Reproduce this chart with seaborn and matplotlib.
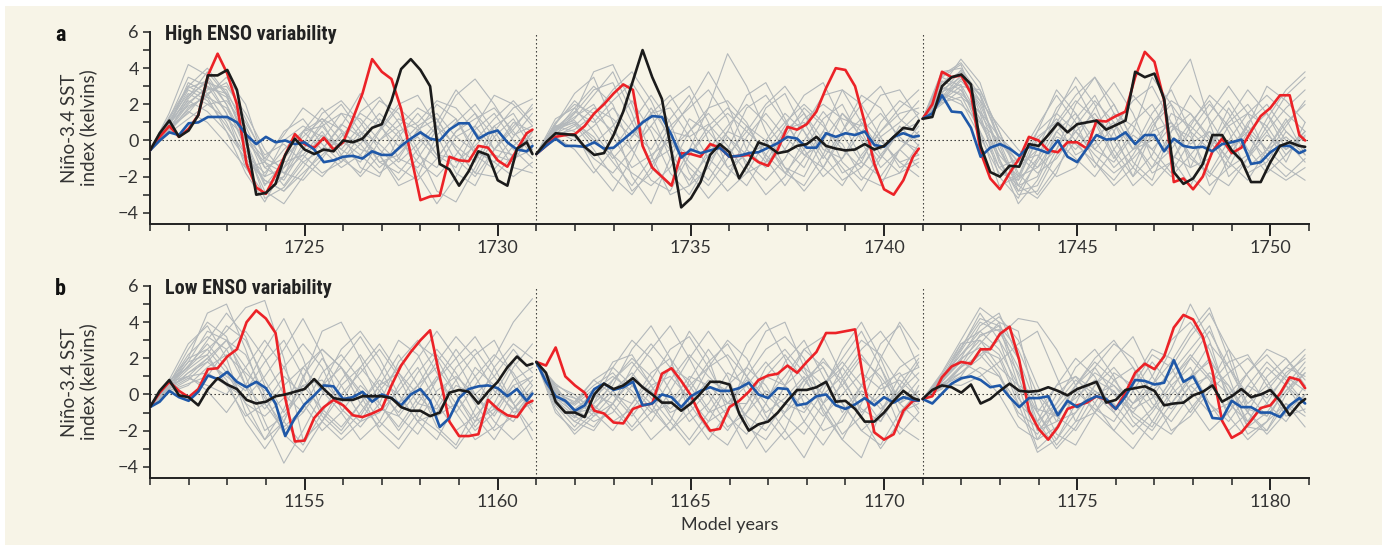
import numpy as np
import pandas as pd
import matplotlib
matplotlib.use("Agg")
import matplotlib.pyplot as plt
from matplotlib.patches import Rectangle
from matplotlib.ticker import MultipleLocator, FixedLocator
import seaborn as sns

# ---------------- data ----------------
# time offsets (years) within each 10-year restart segment
t_col = np.append(np.arange(0, 9.76, 0.25), 9.9)    # highlighted members
t_grey = np.linspace(0, 9.9, 21)                     # other ensemble members

starts_a = [1721, 1731, 1741]
starts_b = [1151, 1161, 1171]

red_a = [
    [-0.55,0.2,0.8,0.2,0.65,1.4,3.6,4.8,3.7,2.0,-1.3,-2.6,-2.95,-1.9,-0.8,0.35,-0.2,-0.4,0.15,-0.5,-0.1,1.2,2.6,4.5,3.8,3.4,1.75,-0.8,-3.3,-3.1,-3.05,-0.9,-1.1,-1.15,-0.3,-0.4,-1.1,-1.45,-0.5,0.4,0.6],
    [-0.75,-0.3,0.2,0.3,0.35,0.8,1.5,2.0,2.6,3.1,2.8,-0.3,-1.5,-2.0,-2.5,-0.7,-0.75,-0.9,-0.2,-0.4,-0.9,-0.85,-0.8,-1.2,-1.4,-0.5,0.75,0.6,0.9,1.6,2.9,4.0,3.9,3.0,1.0,-1.3,-2.7,-3.0,-2.2,-0.9,-0.45],
    [1.2,2.0,3.8,3.5,3.6,2.6,-0.65,-2.1,-2.7,-1.8,-1.0,0.2,0.0,-0.55,-0.65,-0.1,-0.1,-0.45,1.1,1.05,1.35,1.6,3.5,4.9,4.35,2.2,-2.3,-2.1,-2.7,-2.0,-0.6,0.1,-0.7,-0.4,0.5,1.35,1.8,2.5,2.5,0.3,0.0],
]
blue_a = [
    [-0.55,0.0,0.45,0.3,0.95,1.0,1.3,1.3,1.3,1.0,0.3,-0.2,0.2,-0.1,0.0,-0.2,-0.1,-0.5,-1.2,-1.1,-0.9,-0.85,-1.0,-0.6,-0.8,-0.8,-0.3,0.1,0.45,0.1,0.0,0.6,0.95,0.95,0.1,0.4,0.55,-0.1,-0.5,-0.6,-0.3],
    [-0.75,-0.3,0.1,-0.3,-0.3,-0.35,-0.1,-0.45,-0.4,0.05,0.5,1.0,1.35,1.3,0.3,-0.95,-0.5,-0.7,-0.55,-0.4,-0.9,-0.85,-0.7,-0.65,-0.4,-0.15,0.2,0.1,-0.4,-0.4,0.4,0.2,0.4,0.3,0.5,-0.25,-0.35,0.2,0.4,0.2,0.25],
    [1.2,1.5,2.5,1.6,1.55,0.7,-0.9,-0.4,-0.2,-0.45,-0.85,-0.35,-0.5,-0.7,0.0,-0.9,-1.2,-0.45,0.3,0.05,0.1,0.45,-0.2,0.3,0.3,-0.6,0.1,-0.3,-0.4,-0.35,-0.6,-0.2,-0.1,0.05,-1.3,-1.2,-0.65,-0.3,-0.3,-0.7,-0.55],
]
black_a = [
    [-0.55,0.4,1.1,0.2,0.55,1.4,3.6,3.6,3.9,2.8,0.0,-3.0,-2.9,-2.4,-0.8,0.1,-0.5,-0.75,-0.5,-0.6,0.0,-0.1,0.1,0.7,0.9,2.2,3.95,4.5,3.9,3.0,-1.3,-1.6,-2.5,-1.7,-0.6,-0.8,-2.2,-2.5,-0.45,-0.1,-0.75],
    [-0.75,-0.1,0.4,0.35,0.3,-0.35,-0.8,-0.7,0.3,1.6,3.3,5.0,3.5,2.3,-0.65,-3.7,-3.2,-2.3,-0.8,-0.2,-0.65,-2.1,-1.2,-0.1,-0.3,-0.7,-0.6,-0.3,-0.2,0.2,-0.3,-0.45,-0.55,-0.5,-0.2,-0.5,-0.3,0.2,0.7,0.6,1.1],
    [1.2,1.3,3.0,3.5,3.65,3.1,-0.3,-1.75,-2.0,-1.4,-1.45,-0.2,-0.3,0.3,0.95,0.45,0.9,1.0,1.1,0.6,0.85,1.1,3.8,3.5,3.7,2.3,-1.75,-2.4,-2.1,-1.3,0.3,0.3,-0.55,-1.1,-2.3,-2.3,-1.2,-0.3,-0.1,-0.3,-0.35],
]
red_b = [
    [-0.7,0.1,0.7,0.2,-0.15,0.3,1.4,1.45,2.1,2.5,4.0,4.65,4.2,3.4,-0.2,-2.6,-2.55,-1.3,-0.7,-0.3,-0.6,-1.15,-1.25,-1.05,-0.8,0.5,1.6,2.35,3.0,3.55,1.0,-1.5,-2.3,-2.3,-2.2,-0.3,-0.8,-1.15,-1.25,-0.5,-0.35],
    [1.8,1.6,2.6,1.0,0.5,0.1,-0.9,-1.05,-1.55,-1.6,-0.8,-0.6,-0.5,1.15,1.45,0.75,-0.05,-1.2,-2.0,-1.9,-0.7,-0.35,0.15,0.8,1.05,1.15,1.6,1.2,1.8,2.35,3.4,3.4,3.5,3.6,0.4,-2.1,-2.5,-2.2,-0.9,-0.35,-0.35],
    [-0.25,-0.1,0.95,1.55,1.8,1.7,2.5,2.5,3.35,3.75,1.9,-0.9,-1.9,-2.5,-1.8,-0.8,-0.6,-0.45,-0.1,-0.3,-0.8,0.1,1.2,1.7,1.4,2.1,3.7,4.4,4.15,3.2,1.3,-1.45,-2.4,-2.1,-1.45,-0.75,-0.6,0.05,0.95,0.8,0.35],
]
blue_b = [
    [-0.7,-0.4,0.2,-0.15,-0.35,0.15,1.05,0.85,1.25,0.7,0.4,0.7,0.35,-0.5,-2.3,-1.3,-0.55,-0.05,0.5,0.45,-0.25,-0.15,0.15,-0.4,0.0,-0.2,-0.6,0.0,0.3,-0.35,-1.8,-1.3,-0.2,0.3,0.45,0.5,0.35,-0.1,0.3,-0.35,0.05],
    [1.8,0.7,-0.1,-0.35,-0.9,-0.6,0.3,0.6,0.25,0.4,0.7,-0.6,-0.5,0.0,-0.15,-0.7,-0.1,0.2,0.4,0.2,0.2,0.35,0.65,0.0,-0.2,0.35,0.3,-0.6,-0.5,-0.1,0.0,-0.6,-0.8,-0.55,-0.2,-0.6,-0.15,-0.45,-0.15,-0.3,-0.35],
    [-0.25,-0.5,0.05,0.6,0.9,1.0,0.8,0.4,0.5,-0.15,-0.7,-0.2,-0.2,-0.1,-1.15,-0.35,-0.7,-0.35,-0.1,-0.25,-0.8,-0.1,0.8,0.75,0.55,0.65,1.9,0.7,1.0,0.0,-1.3,-1.35,-0.35,-0.7,-0.7,-1.0,-1.0,-1.25,-0.6,-0.2,-0.5],
]
black_b = [
    [-0.7,0.2,0.8,-0.05,-0.15,-0.6,0.3,0.9,0.55,0.3,-0.3,-0.5,-0.4,-0.1,0.0,0.15,0.3,0.85,0.3,-0.2,-0.3,-0.3,-0.1,-0.1,-0.1,-0.2,-0.7,-0.9,-0.9,-1.2,-1.0,0.1,0.25,0.15,-0.5,0.15,0.7,1.5,2.1,1.6,1.7],
    [1.8,1.2,-0.4,-1.0,-1.0,-1.25,0.0,0.6,0.3,0.5,0.9,0.4,0.0,-0.45,-0.45,-0.9,-0.5,0.05,0.7,0.7,0.55,-1.05,-2.0,-1.65,-1.5,-1.0,-0.35,0.25,0.25,0.4,0.7,-0.4,-0.35,-0.8,-1.5,-1.5,-1.0,-0.35,0.2,-0.2,-0.3],
    [-0.25,0.25,0.5,0.4,0.1,0.55,-0.5,-0.25,0.2,0.6,0.2,0.15,0.2,0.4,0.2,-0.05,0.3,0.5,0.7,-0.45,-0.3,0.25,0.35,0.45,0.2,-0.6,-0.5,-0.45,-0.05,0.15,0.5,-0.4,-0.1,0.3,-0.15,0.0,0.25,-0.35,-1.15,-0.5,-0.25],
]

grey_a = [
    [  # 1721-1731
        [-0.55,0.8,2.5,3.2,2.8,0.5,-2.0,-1.5,-0.5,0.8,1.5,0.2,-1.2,-0.8,0.5,2.0,1.2,-0.5,-1.2,0.2,1.5],
        [-0.55,1.2,3.5,3.0,1.5,-1.5,-3.0,-2.0,0.5,1.8,0.5,-1.5,-2.0,0.2,1.5,0.3,-1.8,-2.5,-0.5,1.0,0.5],
        [-0.55,0.5,1.8,2.5,3.5,2.0,-1.2,-2.5,-1.0,0.3,-0.5,0.8,2.2,1.5,-0.5,-2.8,-3.4,-1.5,0.5,1.8,2.3],
        [-0.55,0.9,2.8,2.2,0.8,-0.8,-1.8,-0.5,0.5,-0.5,-1.5,-0.8,0.6,2.0,2.5,0.8,-1.2,-0.3,0.8,-0.5,-1.5],
        [-0.55,1.5,4.2,3.6,2.0,-0.5,-2.8,-3.5,-2.0,-0.5,0.8,2.6,1.0,-1.0,-1.5,-0.2,1.0,2.0,0.5,-1.0,-0.5],
        [-0.55,0.6,2.0,3.0,2.4,0.3,-1.5,-1.0,0.2,1.2,0.6,-0.5,-0.8,-2.2,-1.0,0.6,2.5,3.4,2.0,0.3,0.8],
        [-0.55,1.0,2.2,1.6,0.5,-1.0,-2.2,-2.8,-1.5,0.0,1.5,1.2,0.0,0.8,1.8,1.2,-0.5,-1.8,-2.0,-0.8,0.2],
        [-0.55,0.7,1.5,2.8,3.0,1.5,-0.5,-1.8,-2.2,-1.0,0.4,-0.2,-1.5,-0.5,0.2,-1.0,0.5,1.5,0.2,-1.5,-1.8],
        [-0.55,1.3,3.0,4.0,2.6,-0.2,-2.5,-1.2,-0.8,-1.8,-1.2,0.3,1.5,0.5,-1.8,-3.5,-2.0,0.0,1.2,2.2,1.0],
        [-0.55,0.4,1.2,2.0,1.2,0.2,-1.0,0.3,1.8,1.0,-0.8,-2.0,-0.8,0.5,1.0,2.2,1.8,0.5,-0.8,-1.2,0.5],
        [-0.55,1.1,2.6,2.0,2.2,0.8,-1.5,-2.2,-0.5,1.0,2.0,0.5,-1.2,-1.8,-0.5,0.8,-0.3,-1.2,0.8,1.5,-0.2],
        [-0.55,0.8,3.2,2.6,1.0,-1.2,-2.0,0.0,0.8,0.2,-0.3,1.6,2.4,1.0,-0.8,-1.5,0.2,0.8,-0.5,0.6,2.0],
        [-0.55,0.6,2.3,3.4,2.0,0.0,-1.2,-1.8,-0.8,0.5,-1.0,-1.8,0.0,1.2,0.6,-0.8,-1.5,0.6,1.5,0.0,-1.0],
        [-0.55,1.0,1.9,2.4,1.8,-0.2,-3.2,-2.6,-1.2,-0.5,0.9,0.2,-0.8,-2.5,-2.0,0.3,1.2,-0.8,-1.6,-0.3,0.6],
        [-0.55,0.9,2.4,3.8,2.5,0.0,-2.4,-2.0,-0.2,1.5,2.2,1.0,-0.5,-1.5,-2.2,-1.0,0.5,1.2,1.8,0.5,-0.8],
        [-0.55,0.5,1.6,1.0,-0.2,-1.5,-1.2,0.5,1.2,-0.2,-1.2,-0.2,1.2,0.2,-1.2,-2.0,-0.8,0.8,2.5,2.0,0.8],
        [-0.55,1.2,2.9,3.3,1.5,-0.8,-2.2,-2.8,-1.8,-0.8,0.2,1.5,0.8,-0.3,0.8,1.5,0.2,-0.6,-1.2,-2.0,-1.2],
        [-0.55,0.7,2.1,2.9,2.6,1.0,-0.8,-0.2,-1.2,-2.0,-0.8,0.5,-0.2,-1.2,-0.2,1.0,2.8,1.5,-0.5,-0.8,0.5],
        [-0.55,1.0,3.0,2.4,0.5,-1.8,-3.4,-1.5,0.5,0.8,-0.5,-1.2,0.5,1.8,0.8,-0.8,-1.0,-2.0,-0.5,0.8,1.8],
        [-0.55,0.6,1.7,2.6,3.2,1.2,-1.0,-1.5,0.5,1.2,0.0,-0.8,-1.8,-1.0,0.6,1.2,-0.5,-1.8,0.2,1.2,-0.5],
    ],
    [  # 1731-1741
        [-0.75,0.5,1.2,2.5,3.8,1.5,-1.5,-2.5,-0.5,1.8,4.8,3.0,0.5,-1.5,-2.0,0.0,1.5,0.5,-1.5,-0.5,0.8],
        [-0.75,0.8,0.5,-1.5,-2.8,-1.0,1.5,2.5,0.8,-1.0,-2.0,-0.5,1.8,2.6,0.5,-1.5,-2.5,-0.8,0.5,1.8,2.8],
        [-0.75,0.3,1.5,3.8,4.2,2.0,-0.8,-3.0,-2.5,-0.5,0.8,2.0,1.0,-0.5,-1.5,0.5,2.8,2.0,0.2,-1.5,-1.0],
        [-0.75,0.6,1.0,0.2,-1.2,-2.5,-1.0,0.8,1.8,2.8,1.2,-1.5,-3.0,-2.0,0.0,1.6,0.3,-1.2,-2.0,-0.5,0.5],
        [-0.75,1.0,2.0,1.5,0.5,-0.5,0.8,2.2,3.0,1.0,-1.5,-2.5,-0.8,0.8,2.5,3.2,1.0,-1.0,0.5,1.5,1.8],
        [-0.75,0.2,-0.5,-1.8,-0.5,1.0,2.5,1.0,-1.8,-3.2,-2.0,0.2,1.5,0.2,-0.8,-0.2,-1.5,-2.8,-1.0,0.8,-0.3],
        [-0.75,0.7,1.6,1.0,2.2,3.2,1.5,-1.0,-2.2,-0.8,0.5,0.0,-1.2,-0.5,1.2,2.0,1.2,0.8,2.5,2.8,1.2],
        [-0.75,0.4,0.9,-0.5,-2.0,-3.0,-1.5,0.5,0.2,0.9,-0.3,-1.8,-1.2,0.6,1.0,-0.8,-2.2,-1.5,0.0,-1.2,-2.0],
        [-0.75,0.9,2.6,3.5,1.0,-2.0,-3.5,-1.0,1.2,0.5,-0.8,0.5,2.0,3.0,1.5,-0.5,-1.0,0.5,1.5,0.2,-0.8],
        [-0.75,0.5,0.0,0.8,1.8,0.5,-0.5,1.2,2.5,0.0,-1.5,-0.8,-0.2,-1.5,-2.8,-1.5,0.5,2.0,3.0,1.2,0.3],
        [-0.75,1.2,1.8,0.5,-1.0,0.2,1.8,0.2,-1.2,-2.2,-0.5,1.8,2.5,1.0,-0.5,-2.0,-1.0,1.0,-0.8,-1.8,-1.2],
        [-0.75,0.6,1.3,2.0,0.2,-1.5,-0.8,0.0,-0.8,0.5,1.5,0.5,-0.5,0.2,1.8,0.8,-0.5,-1.5,0.2,1.0,2.2],
        [-0.75,0.3,0.6,1.4,2.8,3.8,2.2,0.0,-1.5,-2.5,-1.0,0.8,0.0,-1.8,-2.5,-0.8,1.5,0.2,-1.0,0.5,1.5],
        [-0.75,0.8,1.1,0.0,-0.8,-1.8,-2.5,-1.5,0.5,1.8,2.2,1.0,-1.0,-2.5,-1.0,0.5,-0.2,-2.0,-2.5,-0.5,-1.5],
        [-0.75,0.6,1.5,2.8,3.2,1.0,-1.2,-0.5,0.5,1.5,0.2,-1.2,-2.2,-1.0,0.8,2.5,2.8,1.0,-0.5,0.5,1.0],
        [-0.75,0.4,0.2,-1.0,-1.8,-0.5,0.8,-0.5,-2.5,-1.5,0.5,2.5,3.2,1.2,-0.8,-1.5,0.2,1.2,0.0,-1.2,-0.8],
        [-0.75,0.9,2.2,1.2,-0.8,-2.8,-1.8,0.5,2.0,3.8,2.0,-0.5,-1.5,0.5,1.5,0.0,-1.8,-1.2,1.0,2.2,1.5],
        [-0.75,0.2,0.8,1.8,1.2,0.2,1.5,1.8,0.2,-1.5,-2.8,-1.8,0.0,1.5,0.5,-1.0,0.5,2.5,1.8,0.0,-0.5],
        [-0.75,0.7,1.0,-0.2,0.8,2.2,0.5,-1.8,-3.0,-1.2,0.2,-0.8,-0.2,1.0,2.0,1.0,-1.2,-2.2,-0.8,0.5,0.0],
        [-0.75,0.5,1.8,3.0,2.0,-0.5,-2.2,-2.8,-0.8,0.8,1.8,0.8,-0.8,-1.8,-0.5,1.2,2.0,0.0,-2.2,-1.8,-0.2],
    ],
    [  # 1741-1751
        [1.2,3.5,4.2,1.5,-2.0,-3.2,-1.0,1.5,3.5,2.0,-0.5,-2.0,0.5,3.0,4.5,1.0,-2.0,-1.0,0.8,2.5,3.5],
        [1.2,2.8,3.5,2.0,-0.5,-2.5,-2.0,0.5,1.5,0.0,-1.5,-0.5,1.5,2.8,0.5,-2.5,-1.5,0.5,1.5,0.0,-1.2],
        [1.2,3.0,2.5,0.5,-1.5,-1.0,0.8,2.5,1.0,-1.2,-2.5,-1.5,0.8,2.0,0.5,-0.5,1.2,2.8,1.5,-0.5,0.5],
        [1.2,2.2,3.0,2.8,0.5,-1.8,-3.0,-1.5,0.0,1.8,3.2,1.5,-1.0,-2.0,-0.8,0.5,-0.5,-1.5,-0.5,1.0,2.0],
        [1.2,3.8,4.0,2.5,-1.0,-3.5,-2.2,0.0,-1.0,-2.0,-0.5,1.0,2.0,0.2,-2.0,-3.0,-1.0,0.8,-0.5,-1.5,-2.2],
        [1.2,2.5,2.0,1.0,0.0,-1.5,-0.5,1.8,3.0,1.0,-1.0,0.5,3.5,2.0,-1.5,-1.0,0.8,1.5,2.5,1.5,0.5],
        [1.2,3.2,3.8,1.8,-1.2,-2.8,-1.2,0.5,-0.5,0.8,2.0,0.0,-1.5,-0.5,1.0,2.2,0.5,-1.8,-1.2,0.5,-0.5],
        [1.2,2.0,2.8,1.2,-0.8,-2.0,0.0,1.2,0.0,-1.5,0.5,2.5,1.2,-1.0,-2.5,-0.5,1.8,0.2,-1.0,-2.0,-1.0],
        [1.2,3.0,4.5,3.2,0.0,-2.5,-3.2,-1.8,0.8,2.2,1.0,-1.2,-2.2,0.5,2.5,1.2,-0.5,0.8,3.0,2.2,1.0],
        [1.2,2.6,2.2,0.2,-1.8,-2.2,0.2,1.0,-0.8,-0.2,1.5,0.8,-0.5,0.8,0.2,-1.8,-2.5,-1.0,0.3,-0.5,0.2],
        [1.2,2.2,3.3,2.2,0.8,-0.5,-1.5,-0.5,1.2,2.5,0.5,-2.0,-0.8,1.5,0.8,-0.2,1.0,2.0,0.5,-1.2,1.0],
        [1.2,3.5,3.0,0.5,-2.5,-2.0,0.5,2.8,1.5,-0.5,-1.2,0.3,-0.5,-1.8,0.0,1.5,3.0,1.5,-0.8,0.8,2.2],
        [1.2,2.4,3.6,2.5,0.2,-1.2,-0.8,-2.0,-1.5,0.2,1.0,-0.5,0.0,1.0,-0.2,0.5,-1.2,-2.2,-0.5,1.2,-0.8],
        [1.2,2.9,2.6,1.5,-0.2,-2.8,-2.5,-0.5,2.0,3.5,2.0,0.0,-1.8,-1.2,0.5,2.0,0.8,-0.8,1.2,2.8,3.8],
        [1.2,2.6,3.9,2.2,-0.5,-2.2,-1.0,0.8,2.2,1.2,-0.8,-2.5,-1.5,0.5,1.5,0.2,-1.0,1.0,2.0,0.5,-0.5],
        [1.2,3.3,2.8,1.0,-1.0,-3.0,-2.8,-0.8,0.5,-0.5,0.8,2.2,3.0,1.0,-1.0,-1.8,0.0,1.5,0.8,-0.8,0.3],
        [1.2,2.1,2.4,1.6,0.2,-0.8,-1.8,-1.0,0.5,1.5,0.0,-1.5,-2.5,-1.2,0.8,2.5,1.5,-0.5,-1.8,-0.8,0.5],
        [1.2,3.6,4.3,2.8,0.5,-2.0,-1.5,0.2,-0.2,-1.2,-2.2,-0.8,1.0,2.2,1.5,0.0,-1.5,-0.8,0.5,1.8,2.8],
        [1.2,2.7,3.1,1.2,-1.5,-2.5,-0.5,1.0,2.5,3.5,1.5,-0.5,0.5,1.0,-0.8,-2.0,-0.5,0.5,-0.5,0.2,-0.8],
        [1.2,2.3,3.4,2.6,0.0,-1.2,0.5,1.5,0.5,-0.8,-1.8,-1.0,0.2,-0.8,-1.5,0.8,2.2,0.5,-1.5,-2.2,-1.5],
    ],
]
grey_b = [
    [  # 1151-1161
        [-0.7,0.5,2.0,4.5,5.0,2.5,-0.5,-2.0,-1.0,0.5,1.5,0.2,-1.5,-2.5,-1.0,0.8,2.5,1.0,-0.8,-1.5,0.2],
        [-0.7,0.8,1.5,2.5,3.5,4.8,5.2,2.0,-2.5,-1.5,0.5,1.5,0.2,-1.0,0.5,2.2,0.8,-1.2,-2.5,-0.8,0.5],
        [-0.7,0.3,1.2,2.0,0.8,-1.5,-3.0,-1.5,0.8,3.5,4.0,2.0,-0.5,-2.0,-0.5,1.0,-0.5,-2.0,-1.0,0.8,1.5],
        [-0.7,0.6,2.2,3.2,2.5,0.5,-0.8,0.5,1.5,0.2,-1.0,-2.5,-1.5,0.5,2.0,3.5,2.0,0.0,1.0,2.5,1.2],
        [-0.7,0.2,0.8,1.8,3.0,2.2,0.0,-2.2,-3.2,-1.5,0.0,1.2,2.5,1.0,-1.2,-2.0,-3.0,-1.5,0.5,-0.5,-2.0],
        [-0.7,0.7,1.0,0.2,-1.0,0.5,2.5,4.2,2.0,-1.0,-2.0,-0.5,1.0,3.0,2.2,0.0,-1.0,0.5,2.0,4.0,5.3],
        [-0.7,0.4,1.6,2.8,1.5,-0.5,-1.2,-0.2,0.5,-0.8,-1.8,-0.5,0.8,0.0,-1.5,-2.5,-0.5,1.5,0.5,-1.0,-0.5],
        [-0.7,0.5,1.8,3.5,3.0,1.0,-1.5,-3.8,-2.0,0.0,1.8,3.2,1.5,-0.5,0.5,1.5,0.0,-1.5,-0.8,0.5,-1.0],
        [-0.7,0.1,0.5,1.5,2.2,1.2,0.2,1.5,2.8,1.5,-0.8,-1.8,-0.5,1.8,3.0,1.2,-1.0,-2.5,-1.8,0.2,1.0],
        [-0.7,0.6,2.5,4.0,3.2,0.5,-2.0,-1.2,0.2,2.0,0.5,-1.2,0.5,2.2,0.5,-1.8,-2.8,-0.8,1.5,2.8,2.0],
        [-0.7,0.3,0.9,0.5,0.0,1.5,3.0,1.5,-0.5,-2.0,-1.0,0.5,-0.5,-1.8,-0.2,0.8,2.0,3.2,1.5,-0.5,-2.5],
        [-0.7,0.7,2.0,2.5,1.2,-0.5,-2.5,-1.5,1.0,2.5,1.5,0.0,-2.0,-3.0,-1.5,0.2,1.0,0.0,-1.2,0.5,1.0],
        [-0.7,0.4,1.4,2.2,3.8,3.0,0.8,-1.0,0.5,0.8,-0.5,1.5,2.8,1.2,-0.5,-0.8,0.8,2.2,3.0,1.0,-0.8],
        [-0.7,0.5,1.0,1.2,0.5,-0.2,1.0,2.5,4.2,2.2,-0.5,-1.5,-1.0,0.2,1.5,-0.5,-2.0,-1.2,0.0,1.8,0.5],
        [-0.7,0.6,1.5,3.0,4.5,3.2,0.5,-1.5,-2.8,-1.0,0.8,2.2,0.5,-1.2,-2.2,-0.5,1.5,2.5,1.0,-0.5,0.8],
        [-0.7,0.3,1.2,1.8,1.0,0.2,1.8,3.0,1.0,-1.2,-2.2,-1.0,0.5,1.2,0.0,-1.2,-0.5,1.0,2.2,1.2,-0.5],
        [-0.7,0.8,2.8,3.8,2.0,-1.0,-2.5,-0.8,1.5,2.5,1.5,-0.5,-1.8,-0.5,1.2,2.5,1.2,-0.5,-2.0,-1.2,0.2],
        [-0.7,0.2,0.6,1.0,2.5,3.5,2.0,0.0,-1.0,0.5,2.5,3.5,2.0,0.0,-1.5,-1.0,0.5,0.0,-1.5,-2.5,-1.5],
        [-0.7,0.5,1.8,2.2,0.5,-1.2,-0.5,1.0,0.0,-1.5,-2.5,-1.5,0.2,1.5,2.8,2.0,0.0,-1.8,-0.5,1.5,2.8],
        [-0.7,0.4,1.0,2.0,3.0,1.5,-0.2,-1.8,-0.8,1.2,2.2,0.8,-0.8,-1.2,0.2,1.8,3.2,2.0,0.2,-0.8,0.2],
    ],
    [  # 1161-1171
        [1.8,0.5,-1.0,-0.5,0.5,2.5,3.8,2.0,-1.0,-2.5,-1.0,1.5,3.5,4.0,1.5,-1.0,-2.5,-0.5,2.0,4.0,2.5],
        [1.8,-0.5,-1.5,-0.8,0.2,-1.0,-2.5,-1.5,0.8,2.5,1.0,-1.5,-3.2,-2.0,0.5,2.0,0.5,-1.2,-3.0,-1.5,0.5],
        [1.8,0.2,-0.5,0.5,1.2,0.0,-1.5,0.2,2.0,3.5,2.0,0.0,-1.5,0.5,2.5,3.2,1.0,-1.0,0.0,1.5,2.2],
        [1.8,-1.0,-2.0,-1.0,0.8,1.8,0.5,-1.2,-2.5,-1.0,0.5,2.8,4.0,2.0,-0.5,-2.0,-1.5,0.5,1.5,-0.5,-1.5],
        [1.8,0.0,-0.8,0.0,-0.5,-1.8,-0.5,1.5,3.5,2.0,-1.0,-3.0,-1.5,0.5,1.5,0.5,2.0,3.5,1.5,-1.0,-0.5],
        [1.8,0.5,0.0,-1.0,-2.0,-0.5,1.2,2.0,0.5,-1.0,-0.5,0.8,-0.5,-2.0,-3.5,-1.5,0.8,2.2,0.8,-1.8,-2.5],
        [1.8,-0.3,-1.2,-0.2,0.8,2.0,1.0,-0.5,0.5,1.5,3.0,2.0,0.0,-1.0,0.8,1.5,-0.5,-2.0,-1.0,1.0,1.5],
        [1.8,0.3,-0.8,-1.5,-1.0,0.5,-0.5,-2.0,-1.0,0.2,-1.2,-2.2,-0.5,1.8,3.0,1.0,-1.0,0.5,2.8,3.8,1.5],
        [1.8,-0.6,-1.8,-0.5,1.5,3.0,2.0,0.2,-1.5,-0.5,1.2,0.5,-1.0,-0.2,1.0,-0.8,-2.5,-3.5,-1.0,0.5,-0.8],
        [1.8,0.1,-0.4,0.8,0.0,-1.2,0.2,1.5,0.8,-0.8,-2.0,-0.5,1.5,2.5,1.2,0.0,1.0,2.5,3.5,2.0,0.8],
        [1.8,-0.2,-1.0,0.2,1.0,0.2,-1.0,-0.5,1.0,0.5,-0.5,0.5,1.8,0.5,-1.5,-2.8,-1.2,0.2,-0.5,-2.2,-1.0],
        [1.8,0.6,-0.2,-1.2,-0.5,1.0,2.5,3.8,2.0,0.0,-1.8,-1.0,0.2,-0.5,-1.0,0.5,1.8,0.5,-0.8,0.2,1.8],
        [1.8,-0.4,-1.5,-2.0,-0.5,0.8,0.2,-0.8,0.2,1.8,2.8,1.0,-1.2,-2.5,-1.5,0.2,2.5,4.0,2.0,-0.5,0.2],
        [1.8,0.0,-0.6,0.3,-0.8,-2.0,-1.0,0.8,2.2,1.0,0.0,-1.8,-2.5,-1.0,0.0,-1.2,0.0,1.2,0.3,0.8,-0.2],
        [1.8,0.2,-1.2,-1.8,-0.5,1.5,2.8,1.5,-0.5,-2.0,-2.8,-1.0,1.0,2.2,0.8,-0.5,0.5,2.0,1.0,-0.5,0.8],
        [1.8,-0.3,-0.5,0.8,1.5,0.5,-0.8,-2.0,-0.5,1.5,2.2,1.0,-0.2,1.0,2.5,1.5,-0.5,-2.0,-2.8,-1.0,0.2],
        [1.8,0.4,-1.0,-0.8,0.2,1.2,-0.2,-1.5,-2.8,-1.5,0.5,1.5,0.5,-1.2,-2.2,-0.5,1.5,3.0,2.2,0.5,-1.0],
        [1.8,-0.8,-2.2,-1.2,0.0,-0.5,0.8,2.5,3.2,1.5,-0.5,-0.5,1.0,0.5,-0.8,0.5,1.5,0.0,-1.5,0.5,2.0],
        [1.8,0.1,-0.2,-0.6,-1.5,-0.8,0.5,1.0,-0.2,-1.5,-0.8,1.0,2.5,3.2,2.0,-0.5,-2.2,-1.2,0.5,1.2,-0.2],
        [1.8,-0.5,-1.3,0.0,1.8,2.2,0.5,-1.0,-0.5,0.8,0.2,-1.2,-2.0,-0.5,0.8,1.8,0.8,-0.8,-1.5,0.2,1.2],
    ],
    [  # 1171-1181
        [-0.25,0.8,2.0,3.8,4.5,2.0,-2.0,-1.5,0.5,1.5,0.0,-1.0,0.5,2.5,5.0,3.0,-0.5,-1.5,0.2,1.5,2.5],
        [-0.25,0.5,1.5,2.8,4.0,3.5,-1.0,-2.5,-1.0,0.5,2.0,3.2,1.0,-0.5,0.8,2.0,0.2,-1.8,-1.0,0.5,-0.5],
        [-0.25,1.0,2.5,4.5,3.0,0.0,-3.0,-2.0,0.2,-0.8,-1.5,0.2,1.8,0.5,-1.0,0.5,2.5,1.0,-0.5,-1.5,0.0],
        [-0.25,0.6,1.2,2.0,3.2,4.2,4.0,2.5,0.5,-1.0,-2.0,-0.5,1.0,3.0,4.0,2.5,-0.2,-2.2,-1.5,0.5,1.8],
        [-0.25,0.4,0.8,1.5,1.0,-0.5,-1.5,0.5,2.0,1.0,-1.0,-2.2,-1.0,0.5,1.5,-0.5,-2.0,-1.0,1.0,2.0,0.8],
        [-0.25,0.9,2.2,3.5,2.5,0.5,-1.0,0.5,1.0,-0.5,-2.0,-3.0,-1.5,0.2,2.0,3.5,1.5,-0.5,0.5,1.5,1.0],
        [-0.25,0.7,1.8,1.2,0.0,-1.8,-2.5,-0.8,0.5,2.0,3.0,1.5,-0.5,-1.5,0.0,1.2,0.5,-1.0,-2.0,-0.5,-1.2],
        [-0.25,1.2,3.0,4.8,4.0,1.0,-2.0,-1.0,-0.2,0.8,0.2,-1.5,-2.5,-1.0,0.5,-0.5,-1.5,0.0,1.5,0.5,-1.0],
        [-0.25,0.5,1.0,2.5,2.0,-0.5,-3.2,-2.5,-0.5,1.5,2.8,2.0,0.0,-0.8,0.5,1.0,0.0,1.2,2.2,1.0,0.2],
        [-0.25,0.8,2.8,3.0,1.5,0.5,0.0,-1.2,-2.0,-0.5,1.2,0.5,-0.8,0.8,2.2,1.0,-1.2,-2.5,-1.5,-0.5,-1.8],
        [-0.25,0.3,1.5,2.2,1.0,-1.0,-1.8,0.0,1.0,0.2,-0.8,0.5,2.2,1.5,-0.5,-2.0,-1.0,0.5,-0.2,1.0,2.2],
        [-0.25,1.0,2.2,3.2,3.8,2.5,0.0,-2.2,-2.8,-1.0,0.8,1.5,0.0,-2.0,-1.2,0.2,1.2,2.0,0.8,-1.0,0.0],
        [-0.25,0.6,0.5,1.0,1.8,2.8,3.5,1.0,-1.5,-1.0,0.2,-1.0,-1.8,0.0,1.0,2.8,1.5,0.0,-1.2,0.2,1.2],
        [-0.25,0.8,2.4,4.0,3.5,1.5,-1.5,-3.0,-1.8,0.0,0.5,-0.5,0.5,1.8,3.5,4.8,2.0,-1.0,-2.2,-1.0,0.5],
        [-0.25,0.9,2.6,4.2,3.8,0.5,-2.5,-1.8,0.0,1.2,0.5,-0.8,-0.2,1.5,3.2,4.5,2.5,-0.8,-1.2,0.2,1.5],
        [-0.25,0.7,1.9,3.0,2.2,-0.2,-1.5,-0.5,1.5,2.5,1.0,-1.2,-2.0,-0.5,1.0,1.8,0.5,-1.5,-0.5,1.2,2.0],
        [-0.25,1.1,2.8,3.5,4.3,3.0,0.5,-1.5,-1.0,0.2,-0.5,-1.8,-0.8,0.8,2.0,0.8,-1.0,0.5,1.8,0.8,-0.5],
        [-0.25,0.4,1.2,2.2,3.0,1.2,-1.0,-2.8,-1.5,0.5,1.5,0.2,-1.5,-2.2,-0.8,0.5,1.8,2.2,0.5,-1.2,-0.8],
        [-0.25,0.8,2.0,2.6,1.2,-1.2,-2.2,-0.5,0.8,0.0,-1.0,0.8,2.5,2.0,0.2,-1.0,-0.5,1.2,2.5,2.0,0.5],
        [-0.25,0.5,1.6,3.3,3.6,2.0,-0.8,-1.2,0.5,1.8,0.8,-0.5,0.2,1.2,2.5,3.8,1.0,-1.8,-2.0,0.0,1.2],
    ],
]

panel_titles = ["High ENSO variability", "Low ENSO variability"]
panel_letters = ["a", "b"]
y_label = "Niño-3.4 SST\nindex (kelvins)"
x_label = "Model years"

# ---------------- style ----------------
BG = "#f7f4e7"
GREY = "#b3b8bb"
RED = "#ec2227"
BLUE = "#1f58a8"
BLACK = "#1b1b1b"
TXT = "#333333"

sns.set_style("ticks")
plt.rcParams["font.family"] = ["Lato", "DejaVu Sans"]
plt.rcParams["axes.unicode_minus"] = True
TITLE_FONT = ["Liberation Sans Narrow", "Roboto Condensed", "DejaVu Sans"]


def long_frame(starts, groups, t):
    rows = []
    for s, members in zip(starts, groups):
        for m, vals in enumerate(members):
            for tt, v in zip(t, vals):
                rows.append((f"{s}-{m}", s + tt, v))
    return pd.DataFrame(rows, columns=["member", "year", "sst"])


def seg_frame(starts, segs, t):
    rows = []
    for s, vals in zip(starts, segs):
        for tt, v in zip(t, vals):
            rows.append((s, s + tt, v))
    return pd.DataFrame(rows, columns=["seg", "year", "sst"])


fig = plt.figure(figsize=(13.87, 5.45), dpi=100)
fig.patch.set_facecolor("white")
fig.patches.append(Rectangle((5 / 1387, 0), 1377 / 1387, 1 - 6 / 545,
                             transform=fig.transFigure, facecolor=BG,
                             edgecolor="none", zorder=-10))

left, width, height = 150 / 1387, 1159 / 1387, 192 / 545
bottoms = [1 - 224 / 545, 1 - 478 / 545]

panels = [
    (starts_a, grey_a, red_a, blue_a, black_a),
    (starts_b, grey_b, red_b, blue_b, black_b),
]

for i, (starts, greys, reds, blues, blacks) in enumerate(panels):
    ax = fig.add_axes([left, bottoms[i], width, height])
    ax.set_facecolor("none")

    gdf = long_frame(starts, greys, t_grey)
    sns.lineplot(data=gdf, x="year", y="sst", units="member", estimator=None,
                 color=GREY, lw=0.8, ax=ax, zorder=1, sort=False)

    ax.axhline(0, color="#222222", lw=0.8, ls=(0, (1.2, 2.4)), zorder=2)
    for s in starts[1:]:
        ax.axvline(s, color="#222222", lw=0.8, ls=(0, (1.2, 2.4)), zorder=2)

    for segs, col in [(reds, RED), (blues, BLUE), (blacks, BLACK)]:
        cdf = seg_frame(starts, segs, t_col)
        sns.lineplot(data=cdf, x="year", y="sst", units="seg", estimator=None,
                     color=col, lw=1.9, ax=ax, zorder=3, sort=False)

    ax.set_xlim(starts[0], starts[0] + 30)
    ax.set_ylim(-4.62, 6)
    ax.set_xlabel("")
    ax.set_ylabel(y_label, fontsize=13.5, color=TXT, labelpad=15, linespacing=1.1)
    ax.spines["top"].set_visible(False)
    ax.spines["right"].set_visible(False)
    for sp in ["left", "bottom"]:
        ax.spines[sp].set_linewidth(1.4)
        ax.spines[sp].set_color("#222222")

    ax.xaxis.set_major_locator(FixedLocator(list(range(starts[0] + 4, starts[0] + 31, 5))))
    ax.xaxis.set_minor_locator(MultipleLocator(1))
    ax.yaxis.set_major_locator(FixedLocator([-4, -2, 0, 2, 4, 6]))
    ax.yaxis.set_minor_locator(FixedLocator([-3, -1, 1, 3, 5]))
    ax.tick_params(axis="x", which="major", length=8.5, width=1.4, color="#222222",
                   labelsize=13, labelcolor=TXT, pad=3)
    ax.tick_params(axis="x", which="minor", length=5, width=1.1, color="#222222")
    ax.tick_params(axis="y", which="both", length=5, width=1.1, color="#222222",
                   labelsize=13, labelcolor=TXT, pad=3)

    ax.text(0.013, 0.985, panel_titles[i], transform=ax.transAxes, ha="left",
            va="center", fontsize=14.5, fontweight="bold", color="#222222",
            family=TITLE_FONT)
    fig.text(60 / 1387, bottoms[i] + height - 3 / 545, panel_letters[i],
             ha="center", va="center", fontsize=16, fontweight="heavy",
             color="#111111", family=TITLE_FONT)

fig.text((150 + 1159 / 2) / 1387, 1 - 525 / 545, x_label, ha="center",
         va="center", fontsize=13, color=TXT)

fig.savefig("out.png", dpi=100, facecolor=fig.get_facecolor())
